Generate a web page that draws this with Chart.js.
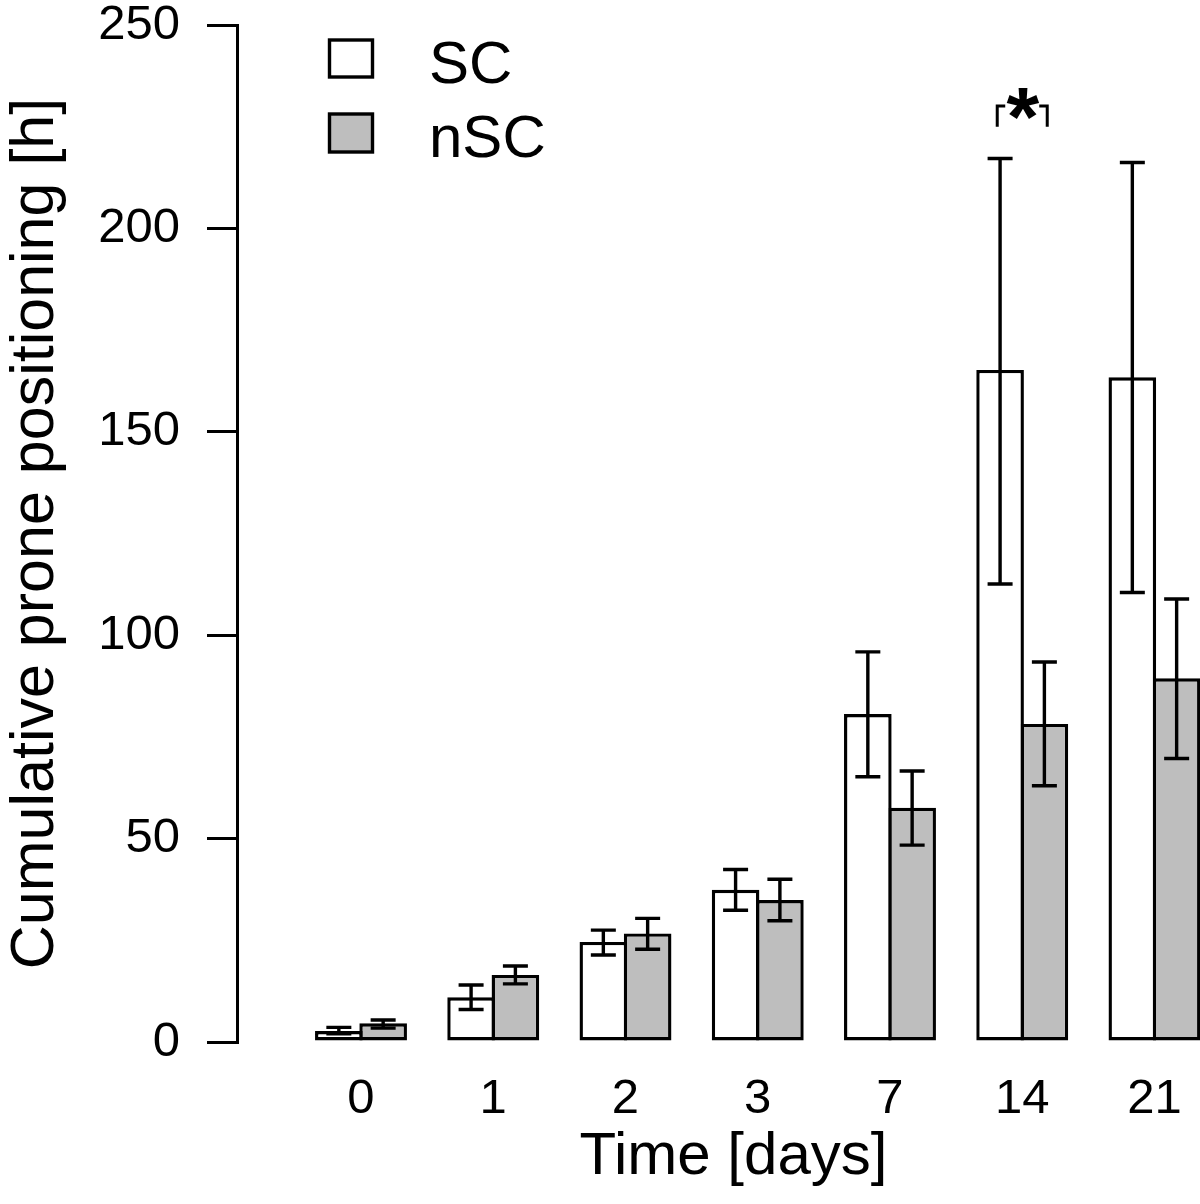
<!DOCTYPE html>
<html><head><meta charset="utf-8">
<script src="https://cdn.jsdelivr.net/npm/chart.js@4/dist/chart.umd.min.js"></script>
<style>html,body{margin:0;padding:0;overflow:hidden;background:#fff}</style>
</head><body>
<canvas id="c" width="1230" height="1204"></canvas>
<script>
// ---- data ----
const categories = ['0', '1', '2', '3', '7', '14', '21'];
const seriesLabels = ['SC', 'nSC'];
const scMean = [2.7, 11.0, 24.6, 37.4, 80.6, 165.2, 163.4];
const scLow  = [2.0, 8.0, 21.4, 32.4, 65.2, 112.6, 110.5];
const scHigh = [3.6, 14.0, 27.5, 42.4, 95.9, 217.2, 216.2];
const nscMean = [4.6, 16.5, 26.7, 34.9, 57.6, 78.2, 89.4];
const nscLow  = [3.4, 14.3, 22.8, 29.8, 48.4, 63.0, 69.7];
const nscHigh = [5.4, 18.7, 30.4, 40.0, 66.6, 93.4, 108.9];
const yTicks = [0, 50, 100, 150, 200, 250];
const sigIndex = 5;
const sigLabel = '*';

const FONT = "'Liberation Sans', Arial, Helvetica, sans-serif";
const lows = [scLow, nscLow];
const highs = [scHigh, nscHigh];

const errorBars = {
  id: 'errorBars',
  afterDatasetsDraw(chart) {
    const ctx = chart.ctx, y = chart.scales.y;
    ctx.save();
    ctx.strokeStyle = '#000';
    ctx.lineWidth = 3.4;
    ctx.lineCap = 'butt';
    chart.data.datasets.forEach((ds, d) => {
      const meta = chart.getDatasetMeta(d);
      meta.data.forEach((bar, i) => {
        const x = bar.x;
        const yl = y.getPixelForValue(lows[d][i]);
        const yh = y.getPixelForValue(highs[d][i]);
        ctx.beginPath();
        ctx.moveTo(x, yl); ctx.lineTo(x, yh);
        ctx.moveTo(x - 12.5, yl); ctx.lineTo(x + 12.5, yl);
        ctx.moveTo(x - 12.5, yh); ctx.lineTo(x + 12.5, yh);
        ctx.stroke();
      });
    });
    // significance bracket
    const xs = chart.scales.x;
    const cx = xs.getPixelForValue(sigIndex);
    const yTop = y.getPixelForValue(230.1);
    const yBot = y.getPixelForValue(225.0);
    ctx.lineWidth = 3;
    ctx.beginPath();
    ctx.moveTo(cx - 17, yTop); ctx.lineTo(cx - 25, yTop); ctx.lineTo(cx - 25, yBot);
    ctx.moveTo(cx + 17, yTop); ctx.lineTo(cx + 25, yTop); ctx.lineTo(cx + 25, yBot);
    ctx.stroke();
    ctx.fillStyle = '#000';
    ctx.font = 'bold 84px ' + FONT;
    ctx.textAlign = 'center';
    ctx.textBaseline = 'alphabetic';
    ctx.fillText(sigLabel, cx + 0.5, yTop + 40);
    ctx.restore();
  }
};

const boxLegend = {
  id: 'boxLegend',
  afterDraw(chart) {
    const ctx = chart.ctx;
    ctx.save();
    const rows = [{top: 40, bottom: 77, base: 82.5}, {top: 114, bottom: 152, base: 156.5}];
    chart.data.datasets.forEach((ds, d) => {
      const r = rows[d];
      ctx.fillStyle = ds.backgroundColor;
      ctx.strokeStyle = '#000';
      ctx.lineWidth = 3.4;
      ctx.fillRect(329.5, r.top, 43, r.bottom - r.top);
      ctx.strokeRect(329.5, r.top, 43, r.bottom - r.top);
      ctx.fillStyle = '#000';
      ctx.font = '60px ' + FONT;
      ctx.textAlign = 'left';
      ctx.textBaseline = 'alphabetic';
      ctx.fillText(ds.label, 429, r.base);
    });
    ctx.restore();
  }
};

const barCommon = {borderColor: '#000', borderWidth: 3.4, borderSkipped: false,
  categoryPercentage: 0.670, barPercentage: 1.075};

new Chart(document.getElementById('c'), {
  type: 'bar',
  data: {
    datasets: [
      Object.assign({label: seriesLabels[0], backgroundColor: '#FFFFFF',
        data: scMean.map((v, i) => ({x: i, y: v}))}, barCommon),
      Object.assign({label: seriesLabels[1], backgroundColor: '#BEBEBE',
        data: nscMean.map((v, i) => ({x: i, y: v}))}, barCommon)
    ]
  },
  options: {
    responsive: false, animation: false, devicePixelRatio: 1,
    layout: {padding: {top: 25, left: 0, right: 0, bottom: 0}},
    plugins: {legend: {display: false}, tooltip: {enabled: false}},
    scales: {
      x: {
        type: 'linear', min: -0.9376, max: 6.571, offset: false,
        afterBuildTicks: s => { s.ticks = categories.map((c, i) => ({value: i})); },
        afterFit: s => { s.height = 162; s.paddingLeft = 0; s.paddingRight = 0; },
        grid: {display: false, drawTicks: false},
        border: {display: false},
        ticks: {callback: v => categories[v], font: {family: FONT, size: 49}, color: '#000',
          padding: 28, autoSkip: false, maxRotation: 0},
        title: {display: true, text: 'Time [days]', font: {family: FONT, size: 60}, color: '#000',
          padding: {top: 0, bottom: 11}}
      },
      y: {
        min: 0, max: 250,
        afterBuildTicks: s => { s.ticks = yTicks.map(v => ({value: v})); },
        afterFit: s => { s.width = 237; s.paddingTop = 0; s.paddingBottom = 0; },
        grid: {drawOnChartArea: false, drawTicks: true, tickLength: 30, color: '#000', lineWidth: 3},
        border: {display: true, color: '#000', width: 3},
        ticks: {font: {family: FONT, size: 49}, color: '#000', padding: 27},
        title: {display: true, text: 'Cumulative prone positioning [h]', font: {family: FONT, size: 61},
          color: '#000', padding: {top: 0, bottom: 0}}
      }
    }
  },
  plugins: [errorBars, boxLegend]
});
</script>
</body></html>
